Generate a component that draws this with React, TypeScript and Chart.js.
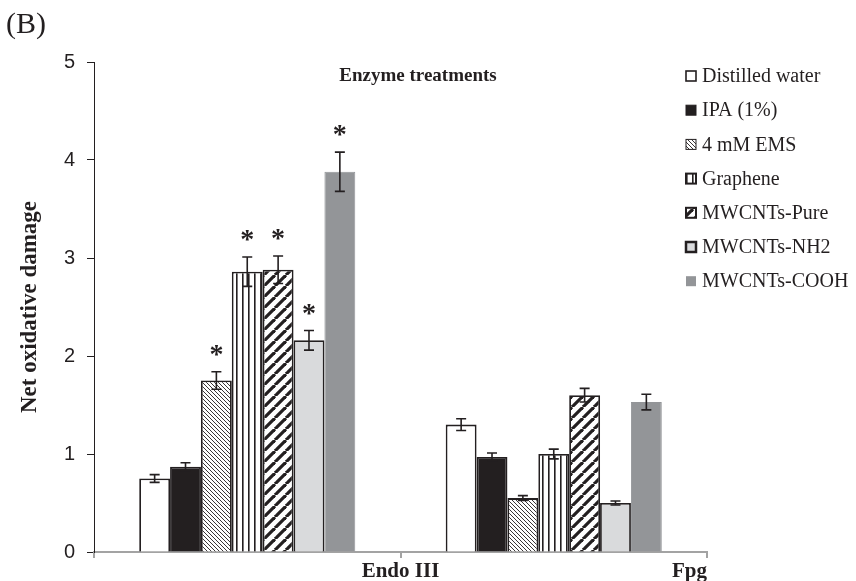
import React, { useEffect, useRef } from 'react';
import { Chart, registerables } from 'chart.js';

Chart.register(...registerables);

// ---------- data ----------
const categories = ['Endo III', 'Fpg'];
const seriesNames = [
  'Distilled water',
  'IPA (1%)',
  '4 mM EMS',
  'Graphene',
  'MWCNTs-Pure',
  'MWCNTs-NH2',
  'MWCNTs-COOH',
];
const distilledWater = [0.75, 1.3];
const ipa = [0.87, 0.97];
const ems = [1.75, 0.55];
const graphene = [2.86, 1.0];
const mwcntsPure = [2.88, 1.6];
const mwcntsNH2 = [2.16, 0.5];
const mwcntsCOOH = [3.88, 1.53];

const errDistilledWater = [0.04, 0.06];
const errIpa = [0.04, 0.04];
const errEms = [0.09, 0.025];
const errGraphene = [0.15, 0.05];
const errMwcntsPure = [0.14, 0.07];
const errMwcntsNH2 = [0.1, 0.02];
const errMwcntsCOOH = [0.2, 0.08];

const sigDistilledWater = [false, false];
const sigIpa = [false, false];
const sigEms = [true, false];
const sigGraphene = [true, false];
const sigMwcntsPure = [true, false];
const sigMwcntsNH2 = [true, false];
const sigMwcntsCOOH = [true, false];

const yTickValues = [0, 1, 2, 3, 4, 5];
const chartTitle = 'Enzyme treatments';
const yAxisTitle = 'Net oxidative damage';
const panelLabel = '(B)';

const SERIF = '"Liberation Serif", "Times New Roman", serif';
const SANS = '"Liberation Sans", Arial, sans-serif';
const INK = '#231f20';

function makePattern(kind: string): CanvasPattern | string {
  const c = document.createElement('canvas');
  const ctx = c.getContext('2d')!;
  if (kind === 'fineDiag') {
    const s = 4;
    c.width = s; c.height = s;
    ctx.fillStyle = '#ffffff';
    ctx.fillRect(0, 0, s, s);
    ctx.strokeStyle = '#3a3637';
    ctx.lineWidth = 1;
    for (let k = -1; k <= 1; k++) {
      ctx.beginPath();
      ctx.moveTo(k * s, 0);
      ctx.lineTo(k * s + s, s);
      ctx.stroke();
    }
  } else if (kind === 'vert') {
    c.width = 6; c.height = 6;
    ctx.fillStyle = '#ffffff';
    ctx.fillRect(0, 0, 6, 6);
    ctx.fillStyle = INK;
    ctx.fillRect(2, 0, 1.6, 6);
  } else if (kind === 'thickDiag') {
    const s = 11;
    c.width = s; c.height = s;
    ctx.fillStyle = '#ffffff';
    ctx.fillRect(0, 0, s, s);
    ctx.strokeStyle = INK;
    ctx.lineWidth = 3.2;
    for (let k = -1; k <= 1; k++) {
      ctx.beginPath();
      ctx.moveTo(k * s, s);
      ctx.lineTo(k * s + s, 0);
      ctx.stroke();
    }
  }
  const p = ctx.createPattern(c, 'repeat');
  return p || '#ffffff';
}

const overlayPlugin = {
  id: 'overlayPlugin',
  afterDatasetsDraw(chart: any) {
    const ctx = chart.ctx as CanvasRenderingContext2D;
    const yScale = chart.scales.y;
    chart.data.datasets.forEach((ds: any, di: number) => {
      const meta = chart.getDatasetMeta(di);
      meta.data.forEach((bar: any, i: number) => {
        const v = ds.data[i];
        const e = ds.errors[i];
        const yt = yScale.getPixelForValue(v + e);
        const yb = yScale.getPixelForValue(v - e);
        ctx.save();
        ctx.strokeStyle = INK;
        ctx.lineWidth = 1.6;
        ctx.beginPath();
        ctx.moveTo(bar.x, yt);
        ctx.lineTo(bar.x, yb);
        ctx.moveTo(bar.x - 5, yt);
        ctx.lineTo(bar.x + 5, yt);
        ctx.moveTo(bar.x - 5, yb);
        ctx.lineTo(bar.x + 5, yb);
        ctx.stroke();
        if (ds.sig[i]) {
          ctx.fillStyle = INK;
          ctx.font = `bold 28px ${SERIF}`;
          ctx.textAlign = 'center';
          ctx.textBaseline = 'alphabetic';
          ctx.fillText('*', bar.x, yt - 9);
        }
        ctx.restore();
      });
    });
  },
  afterDraw(chart: any) {
    const ctx = chart.ctx as CanvasRenderingContext2D;
    const xScale = chart.scales.x;
    const area = chart.chartArea;
    ctx.save();
    // category labels at the right boundary of each category
    ctx.fillStyle = INK;
    ctx.font = `bold 21px ${SERIF}`;
    ctx.textBaseline = 'alphabetic';
    const n = categories.length;
    const half = (xScale.getPixelForValue(1) - xScale.getPixelForValue(0)) / 2;
    categories.forEach((lab, i) => {
      const bx = xScale.getPixelForValue(i) + half;
      if (i === n - 1) {
        ctx.textAlign = 'right';
        ctx.fillText(lab, area.right, 577);
      } else {
        ctx.textAlign = 'center';
        ctx.fillText(lab, bx, 577);
      }
    });
    // title inside plot
    ctx.font = `bold 19px ${SERIF}`;
    ctx.textAlign = 'center';
    ctx.fillText(chartTitle, 418, 81);
    // panel label
    ctx.font = `30px ${SERIF}`;
    ctx.textAlign = 'left';
    ctx.fillText(panelLabel, 6, 33);
    // legend
    chart.data.datasets.forEach((ds: any, i: number) => {
      const cy = 76 + i * 34.2;
      const sx = 686;
      const sz = 10;
      ctx.fillStyle = ds.legendFill || ds.backgroundColor;
      ctx.fillRect(sx, cy - sz / 2, sz, sz);
      if (ds.legendBorder) {
        ctx.strokeStyle = ds.legendBorder;
        ctx.lineWidth = ds.legendBorderWidth || 1.5;
        ctx.strokeRect(sx, cy - sz / 2, sz, sz);
      }
      ctx.fillStyle = INK;
      ctx.font = `20px ${SERIF}`;
      ctx.textAlign = 'left';
      ctx.textBaseline = 'middle';
      ctx.fillText(ds.label, 702, cy + 1);
    });
    ctx.restore();
  },
};

export default function App() {
  const ref = useRef<HTMLCanvasElement | null>(null);

  useEffect(() => {
    if (!ref.current) return;
    const fineDiag = makePattern('fineDiag');
    const vert = makePattern('vert');
    const thickDiag = makePattern('thickDiag');

    const values = [distilledWater, ipa, ems, graphene, mwcntsPure, mwcntsNH2, mwcntsCOOH];
    const errors = [errDistilledWater, errIpa, errEms, errGraphene, errMwcntsPure, errMwcntsNH2, errMwcntsCOOH];
    const sigs = [sigDistilledWater, sigIpa, sigEms, sigGraphene, sigMwcntsPure, sigMwcntsNH2, sigMwcntsCOOH];
    const fills: any[] = ['#ffffff', INK, fineDiag, vert, thickDiag, '#d9dadc', '#939598'];
    const borders = [INK, INK, INK, INK, INK, INK, '#939598'];
    const legendBorderWidths = [1.6, 1, 1, 2, 2, 2.5, 0];

    const datasets = seriesNames.map((name, i) => ({
      label: name,
      data: values[i],
      errors: errors[i],
      sig: sigs[i],
      backgroundColor: fills[i],
      borderColor: borders[i],
      borderWidth: i === 6 ? 1 : 1.8,
      borderSkipped: 'bottom',
      legendBorder: i === 6 ? null : INK,
      legendBorderWidth: legendBorderWidths[i],
      categoryPercentage: 0.705,
      barPercentage: 1.0,
    }));

    const chart = new Chart(ref.current, {
      type: 'bar',
      data: { labels: categories, datasets: datasets as any },
      plugins: [overlayPlugin],
      options: {
        responsive: false,
        animation: false,
        layout: { padding: { top: 62, right: 149, bottom: 0, left: 0 } },
        plugins: {
          legend: { display: false },
          tooltip: { enabled: false },
          title: { display: false },
        },
        scales: {
          x: {
            type: 'category',
            offset: true,
            grid: {
              offset: true,
              drawOnChartArea: false,
              drawTicks: true,
              tickLength: 6,
              color: '#a3a3a3',
              lineWidth: 2,
            },
            border: { display: true, color: '#a3a3a3', width: 2 },
            ticks: { display: false },
            afterFit: (s: any) => {
              s.height = 29;
            },
          },
          y: {
            min: 0,
            max: 5,
            afterBuildTicks: (s: any) => {
              s.ticks = yTickValues.map((v) => ({ value: v }));
            },
            grid: {
              drawOnChartArea: false,
              drawTicks: true,
              tickLength: 7,
              color: INK,
              lineWidth: 1,
            },
            border: { display: true, color: INK, width: 1 },
            ticks: {
              color: INK,
              font: { family: SANS, size: 20 },
              padding: 12,
            },
            title: {
              display: true,
              text: yAxisTitle,
              color: INK,
              font: { family: SERIF, size: 23, weight: 'bold' },
              padding: { top: 16, bottom: 0 },
            },
            afterFit: (s: any) => {
              s.width = 94;
            },
          },
        },
      },
    });
    return () => chart.destroy();
  }, []);

  return (
    <div style={{ position: 'absolute', left: 0, top: 0, width: 856, height: 581, background: '#ffffff' }}>
      <canvas ref={ref} width={856} height={581} style={{ display: 'block', width: 856, height: 581 }} />
    </div>
  );
}
